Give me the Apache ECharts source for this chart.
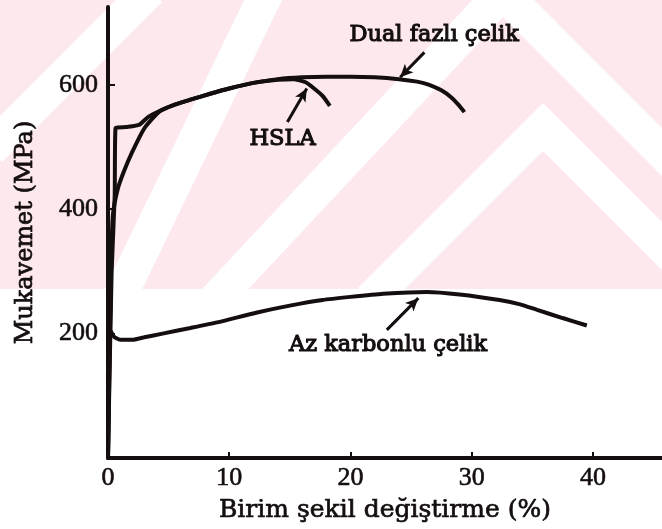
<!DOCTYPE html>
<html><head><meta charset="utf-8">
<script src="https://cdn.jsdelivr.net/npm/echarts@6/dist/echarts.min.js"></script>
<style>html,body{margin:0;padding:0;background:#fff}#c{width:662px;height:529px}</style>
</head><body><div id="c"></div>
<script>
// ---- data ----
const xTickValues = [0, 10, 20, 30, 40];
const yTickValues = [200, 400, 600];
const xTitle = 'Birim şekil değiştirme (%)';
const yTitle = 'Mukavemet (MPa)';

const dualPhase = [[0,0],[0.25,300],[0.4,390],[0.8,432],[1.3,460],[2.0,492],[3.0,530],[4.3,558],[5.5,568],[6.8,576],[8.5,586],[10.0,594],[12.0,603],[14.0,609],[16.0,612],[18.0,613],[20.0,613],[22.0,612],[24.0,609],[25.5,605],[26.5,600],[27.5,591],[28.3,580],[28.9,568],[29.4,556]];
const hsla = [[0,0],[0.3,300],[0.55,420],[0.62,530],[1.5,532],[2.6,536],[3.3,548],[4.3,558],[5.5,568],[6.8,576],[8.5,586],[10.0,594],[12.0,603],[14.0,608],[15.3,609],[16.3,604],[17.0,594],[17.7,582],[18.3,566]];
const lowCarbon = [[0,0],[0.1,150],[0.2,205],[0.5,195],[1.0,190],[2.0,190],[3.0,194],[4.5,200],[6.8,209],[9.0,218],[12.3,234],[15.0,245],[17.7,254],[20.0,259],[22.7,264],[26.3,267],[29.0,263],[32.3,254],[34.0,247],[35.4,238],[37.5,225],[39.5,213]];

const labelTexts = ['Dual fazlı çelik', 'HSLA', 'Az karbonlu çelik'];
const labelPositions = [[26.9,680],[14.4,512],[23.1,181.5]];
const arrowFrom = [[26.1,652],[14.8,540],[23.0,206]];
const arrowTo = [[24.1,612],[16.4,594],[25.6,257]];

// ---- chart ----
const ink = '#140e0e';
const serif = 'DejaVu Serif';
const chart = echarts.init(document.getElementById('c'), null, {renderer: 'canvas'});

const bands = [
  [[-10,150],[150,-10]],
  [[118,300],[268,-10]],
  [[215,300],[505,-10]],
  [[505,-5],[700,190]],
  [[370,300],[543,127],[716,300]]
];
const graphics = [{type:'rect', z:0, shape:{x:0,y:0,width:662,height:289}, style:{fill:'#fce8ed'}}];
bands.forEach(b => graphics.push({type:'polyline', z:0, z2:1, shape:{points:b}, style:{stroke:'#ffffff', lineWidth:34, fill:null, lineCap:'butt', lineJoin:'miter'}}));
graphics.push({type:'rect', z:0, z2:2, shape:{x:0,y:289,width:662,height:240}, style:{fill:'#ffffff'}});

const lineSeries = (name, data) => ({
  name, type:'line', data, showSymbol:false, smooth:0.2, z:10,
  lineStyle:{color:ink, width:4}, animation:false, silent:true
});

const tickFont = {color:ink, fontFamily:'Liberation Serif', fontSize:26, textBorderColor:ink, textBorderWidth:0.6};

const option = {
  backgroundColor:'#ffffff',
  animation:false,
  graphic:{elements:graphics},
  grid:{left:108, right:0, top:7, bottom:71, containLabel:false},
  xAxis:[{
    type:'value', min:0, max:45.7, interval:10, z:5,
    axisLine:{show:true, onZero:false, lineStyle:{color:ink, width:3}},
    axisTick:{show:true, inside:true, length:6, customValues:xTickValues, lineStyle:{color:ink, width:2}},
    splitLine:{show:false},
    axisLabel:Object.assign({margin:7, customValues:xTickValues,
      formatter:v => xTickValues.includes(v) ? String(v) : ''}, tickFont),
    name:xTitle, nameLocation:'middle', nameGap:40,
    nameTextStyle:{fontFamily:serif, fontSize:25, color:ink, textBorderColor:ink, textBorderWidth:0.7}
  },{
    type:'value', position:'top', min:0, max:45.7, z:5,
    axisLine:{show:true, lineStyle:{color:ink, width:4}},
    axisTick:{show:false}, axisLabel:{show:false}, splitLine:{show:false}
  }],
  yAxis:{
    type:'value', min:0, max:725, interval:200, z:5,
    axisLine:{show:true, onZero:false, lineStyle:{color:ink, width:4}},
    axisTick:{show:true, inside:true, length:7, customValues:yTickValues, lineStyle:{color:ink, width:2}},
    splitLine:{show:false},
    axisLabel:Object.assign({margin:10, customValues:yTickValues,
      formatter:v => yTickValues.includes(v) ? String(v) : ''}, tickFont),
    name:yTitle, nameLocation:'middle', nameGap:70, nameRotate:90,
    nameTextStyle:{fontFamily:serif, fontSize:24, color:ink, textBorderColor:ink, textBorderWidth:0.7}
  },
  series:[
    lineSeries('Dual fazlı çelik', dualPhase),
    lineSeries('HSLA', hsla),
    lineSeries('Az karbonlu çelik', lowCarbon),
    {
      type:'scatter', z:12, symbolSize:0, silent:true, animation:false,
      itemStyle:{opacity:1},
      data: labelTexts.map((t,i) => ({name:t, value:labelPositions[i]})),
      label:{show:true, position:'inside', formatter:'{b}', color:ink, opacity:1,
        fontFamily:serif, fontSize:22.5, textBorderColor:ink, textBorderWidth:1.1},
      markLine:{
        silent:true, animation:false, symbol:['none','arrow'], symbolSize:[9,13],
        label:{show:false},
        lineStyle:{color:ink, width:3, type:'solid', opacity:1},
        data: arrowFrom.map((f,i) => [{coord:f}, {coord:arrowTo[i]}])
      }
    }
  ]
};
chart.setOption(option);
</script>
</body></html>
